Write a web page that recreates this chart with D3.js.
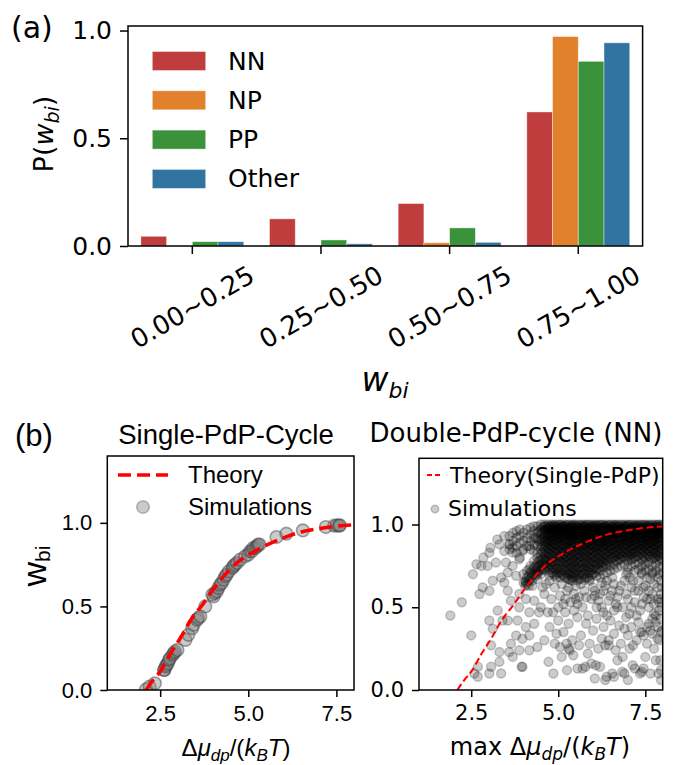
<!DOCTYPE html>
<html><head><meta charset="utf-8">
<script src="https://cdn.jsdelivr.net/npm/d3@7"></script>
<style>body{margin:0;background:#fff;} svg{display:block;}</style>
</head><body><svg id="c" width="684" height="765"></svg>
<script>
// ---------- Panel (a) data ----------
const categories = ["0.00~0.25","0.25~0.50","0.50~0.75","0.75~1.00"];
const seriesNames = ["NN","NP","PP","Other"];
const seriesColors = ["#c03d3e","#e1812c","#3a923a","#3274a1"];
const valNN = [0.045,0.126,0.197,0.622];
const valNP = [0.0,0.0,0.015,0.972];
const valPP = [0.02,0.028,0.084,0.857];
const valOther = [0.02,0.01,0.017,0.943];
const yTicksA = [0.0,0.5,1.0];

// ---------- Panel (b) data ----------
const xTicksB = [2.5,5.0,7.5];
const yTicksB = [0.0,0.5,1.0];
const theoryX = [2.1,2.3,2.5,2.8,3.1,3.4,3.7,4.0,4.3,4.7,5.1,5.5,6.0,6.5,7.0,7.5,8.0];
const theoryY = [0.0,0.06,0.11,0.22,0.32,0.43,0.51,0.60,0.68,0.765,0.82,0.865,0.91,0.945,0.965,0.98,0.988];

const singleSimX = [2.10,2.20,2.35,2.61,2.62,2.66,2.68,2.72,2.75,2.78,2.85,2.89,2.92,2.99,3.22,3.30,3.41,3.45,3.55,3.58,3.64,3.78,3.98,4.02,4.05,4.11,4.15,4.20,4.25,4.30,4.35,4.39,4.45,4.55,4.58,4.62,4.68,4.77,4.91,5.00,5.05,5.10,5.14,5.20,5.25,5.28,5.32,5.80,6.08,6.55,7.20,7.44,7.52,7.58,7.60];
const singleSimY = [0.004,0.02,0.04,0.12,0.12,0.14,0.15,0.16,0.18,0.19,0.21,0.22,0.23,0.24,0.30,0.33,0.37,0.39,0.42,0.43,0.44,0.50,0.57,0.56,0.58,0.59,0.61,0.63,0.64,0.66,0.68,0.69,0.71,0.73,0.74,0.75,0.76,0.78,0.80,0.81,0.83,0.83,0.85,0.85,0.86,0.87,0.87,0.915,0.935,0.955,0.975,0.983,0.985,0.983,0.985];

// Double-PdP-cycle simulations: scattered points
const doubleSimPairs = [
[1.90,0.45],[2.23,0.53],[2.50,0.33],[2.55,0.70],[2.83,0.62],[2.74,0.58],[3.02,0.60],[3.12,0.66],[2.79,0.75],[2.97,0.75],[3.02,0.83],[3.31,0.88],[3.36,0.68],[3.45,0.65],[3.55,0.60],[3.21,0.77],[3.50,0.77],[3.02,0.42],[3.12,0.37],[3.26,0.48],[3.40,0.42],[3.55,0.42],[3.07,0.27],[3.31,0.23],[3.59,0.23],[3.69,0.20],[3.64,0.28],[3.79,0.33],[3.31,0.17],[3.07,0.14],[3.02,0.10],[2.69,0.14],[2.69,0.08],[2.59,0.10],[3.36,0.10],[3.97,0.14],[3.88,0.24],[3.97,0.31],[4.17,0.24],[4.17,0.33],[4.40,0.26],[3.83,0.42],[4.07,0.38],[4.31,0.40],[4.17,0.47],[4.45,0.47],[3.88,0.50],[4.07,0.55],[4.31,0.54],[3.64,0.54],[3.88,0.58],[3.79,0.69],[3.55,0.71],[3.69,0.75],[3.88,0.79],[4.17,0.73],[4.07,0.65],[4.26,0.63],[4.40,0.71],[3.97,0.84],[4.17,0.87],[3.69,0.83],[3.59,0.88],[3.45,0.84],
[2.65,0.76],[2.85,0.80],[3.05,0.86],[3.25,0.91],[3.45,0.93],
[4.72,0.17],[4.86,0.10],[5.10,0.20],[5.25,0.12],[5.55,0.13],[5.70,0.13],[5.85,0.22],[6.05,0.07],[6.08,0.15],[6.20,0.14],[6.35,0.06],[6.39,0.08],[6.55,0.10],[6.60,0.08],[6.70,0.18],[6.84,0.11],[6.90,0.10],[7.05,0.25],[7.14,0.15],[7.20,0.13],[7.35,0.10],[7.40,0.11],[7.50,0.20],[7.65,0.10],[7.80,0.18],[7.88,0.10],[7.93,0.18],[7.95,0.06],[7.95,0.12],[5.95,0.16],[5.30,0.25],[7.00,0.06],[7.45,0.13],[6.85,0.20],[5.43,0.21],[5.33,0.24],[5.24,0.28],[5.05,0.26],[5.78,0.14],[3.95,0.14],
[4.60,0.30],[4.75,0.38],[4.90,0.28],[5.00,0.42],[5.15,0.35],[5.30,0.40],[5.40,0.30],[5.55,0.44],[5.65,0.33],[5.80,0.40],[5.90,0.28],[6.00,0.36],[6.10,0.43],[6.25,0.31],[6.30,0.38],[6.45,0.27],[6.50,0.42],[6.60,0.34],[6.75,0.39],[6.80,0.28],[6.95,0.44],[7.00,0.33],[7.10,0.38],[7.25,0.30],[7.30,0.41],[7.40,0.35],[7.55,0.28],[7.60,0.40],[7.70,0.34],[7.85,0.38],[7.90,0.30],[7.95,0.43],[6.65,0.24],[7.15,0.27],[7.75,0.25],[6.15,0.25],[5.60,0.27],[4.95,0.34],[7.35,0.35],[7.45,0.33],[7.65,0.36],[6.90,0.37],[7.85,0.31],[6.35,0.27],[6.45,0.30],[7.55,0.38],[7.80,0.41],[7.98,0.36],
[4.50,0.50],[4.60,0.58],[4.70,0.47],[4.80,0.55],[4.90,0.62],[5.00,0.50],[5.05,0.57],[5.20,0.47],[5.25,0.60],[5.35,0.53],[5.45,0.48],[5.50,0.63],[5.60,0.56],[5.70,0.50],[5.75,0.60],[5.85,0.45],[5.95,0.55],[6.00,0.62],[6.10,0.50],[6.20,0.58],[6.30,0.47],[6.35,0.63],[6.45,0.54],[6.55,0.60],[6.60,0.48],[6.70,0.56],[6.80,0.63],[6.85,0.50],[6.95,0.58],[7.05,0.46],[7.10,0.62],[7.20,0.53],[7.30,0.60],[7.35,0.48],[7.45,0.56],[7.50,0.63],[7.60,0.50],[7.70,0.58],[7.75,0.46],[7.85,0.62],[7.90,0.53],[7.95,0.58],[6.40,0.45],[5.15,0.52],[4.85,0.47],[7.25,0.45],[7.55,0.55],[6.65,0.52],[5.55,0.52],[6.05,0.57],[7.80,0.45],[7.90,0.48],[7.98,0.50],[7.70,0.43],[7.95,0.35],[7.60,0.60],[7.98,0.62],[7.85,0.55],[7.75,0.52],[4.65,0.64],[5.40,0.66],[6.25,0.65],[7.15,0.66],[7.65,0.67],
[4.55,0.62],[4.75,0.66],[4.95,0.68],[5.10,0.64],[5.30,0.62],[5.45,0.58],[5.65,0.64],[5.80,0.56],[5.90,0.66],[6.05,0.60],[6.15,0.54],[6.30,0.60],[6.40,0.66],[6.50,0.57],[6.60,0.64],[6.75,0.60],[6.90,0.66],[7.00,0.55],[7.05,0.68],[7.20,0.60],[7.30,0.66],[7.40,0.52],[7.45,0.62],[7.55,0.68],[7.65,0.55],[7.75,0.64],[7.85,0.68],[7.95,0.55],[5.20,0.55],[5.50,0.55],[6.25,0.50],[6.70,0.50],[7.10,0.50],[7.95,0.66],[7.70,0.70],[7.40,0.70],[6.95,0.70],[6.55,0.68]
];
// Double-PdP-cycle simulations: dense band, read column by column
const nnColX = [3.6,3.7,3.8,3.9,4.0,4.1,4.2,4.3,4.4,4.5,4.6,4.7,4.8,4.9,5.0,5.1,5.2,5.3,5.4,5.5,5.6,5.7,5.8,5.9,6.0,6.1,6.2,6.3,6.4,6.5,6.6,6.7,6.8,6.9,7.0,7.1,7.2,7.3,7.4,7.5,7.6,7.7,7.8,7.9,8.0];
const nnColY = [
[0.93,0.88,0.85],
[0.95,0.90,0.86],
[0.96,0.92,0.87,0.83],
[0.97,0.93,0.89,0.80],
[0.95,0.90,0.85,0.70,0.65],
[0.97,0.92,0.87,0.72,0.68,0.64],
[0.98,0.94,0.90,0.85,0.75,0.71,0.67],
[0.99,0.96,0.92,0.88,0.84,0.78,0.74,0.70],
[0.99,0.95,0.91,0.87,0.83,0.80,0.77,0.74,0.70,0.67],
[1.00,0.97,0.94,0.91,0.88,0.85,0.82,0.79,0.76,0.73,0.70],
[1.00,0.99,0.97,0.96,0.94,0.92,0.90,0.88,0.85,0.82,0.79,0.76,0.73],
[1.00,0.98,0.97,0.95,0.93,0.91,0.89,0.86,0.83,0.80,0.77,0.74],
[1.00,0.99,0.98,0.96,0.94,0.92,0.90,0.87,0.85,0.81,0.78,0.75,0.71],
[1.00,0.99,0.97,0.95,0.93,0.91,0.88,0.86,0.83,0.80,0.76,0.73,0.69],
[1.00,0.98,0.97,0.96,0.94,0.92,0.90,0.87,0.84,0.81,0.78,0.74,0.71],
[1.00,0.99,0.98,0.96,0.95,0.93,0.91,0.88,0.85,0.83,0.80,0.77,0.73,0.70],
[1.00,0.99,0.97,0.95,0.93,0.91,0.89,0.86,0.84,0.81,0.78,0.75,0.72,0.68],
[1.00,0.98,0.97,0.96,0.94,0.92,0.90,0.87,0.85,0.82,0.79,0.76,0.73,0.70,0.67],
[1.00,0.99,0.98,0.96,0.94,0.93,0.91,0.88,0.86,0.83,0.80,0.77,0.74,0.71,0.68],
[1.00,0.99,0.97,0.95,0.94,0.92,0.89,0.87,0.84,0.81,0.78,0.75,0.72,0.69],
[1.00,0.98,0.97,0.96,0.94,0.92,0.90,0.88,0.85,0.82,0.80,0.77,0.74,0.70,0.67],
[1.00,0.99,0.98,0.96,0.95,0.93,0.91,0.88,0.86,0.83,0.80,0.76,0.73,0.70],
[1.00,0.99,0.97,0.95,0.93,0.91,0.89,0.87,0.84,0.81,0.78,0.75,0.72,0.68],
[1.00,0.98,0.97,0.96,0.94,0.92,0.90,0.88,0.85,0.83,0.80,0.77,0.74,0.71,0.67],
[1.00,0.99,0.98,0.96,0.94,0.93,0.91,0.88,0.86,0.83,0.80,0.77,0.73,0.70],
[1.00,0.99,0.97,0.95,0.94,0.92,0.90,0.87,0.85,0.82,0.79,0.76,0.73,0.69],
[1.00,0.98,0.97,0.96,0.94,0.92,0.90,0.88,0.85,0.82,0.79,0.76,0.72,0.68],
[1.00,0.99,0.98,0.96,0.95,0.93,0.90,0.88,0.86,0.83,0.80,0.77,0.74,0.70],
[1.00,0.99,0.97,0.95,0.93,0.91,0.89,0.87,0.84,0.81,0.78,0.75,0.71],
[1.00,0.98,0.97,0.96,0.94,0.92,0.90,0.87,0.85,0.82,0.79,0.75,0.72],
[1.00,0.99,0.98,0.96,0.94,0.93,0.91,0.88,0.86,0.83,0.80,0.76,0.73],
[1.00,0.99,0.97,0.95,0.94,0.92,0.89,0.87,0.84,0.81,0.78,0.74],
[1.00,0.98,0.97,0.96,0.94,0.92,0.90,0.88,0.85,0.82,0.79,0.75],
[1.00,0.99,0.98,0.96,0.95,0.93,0.91,0.88,0.86,0.83,0.80,0.76],
[1.00,0.99,0.97,0.95,0.93,0.91,0.89,0.87,0.84,0.81,0.78,0.74,0.71],
[1.00,0.98,0.97,0.96,0.94,0.92,0.90,0.87,0.85,0.82,0.79,0.75],
[1.00,0.99,0.98,0.96,0.94,0.93,0.91,0.88,0.86,0.83,0.80,0.76,0.72],
[1.00,0.99,0.97,0.95,0.94,0.92,0.89,0.87,0.84,0.81,0.77,0.73],
[1.00,0.98,0.97,0.96,0.94,0.92,0.90,0.88,0.85,0.82,0.79,0.75,0.71],
[1.00,0.99,0.98,0.96,0.95,0.93,0.91,0.88,0.86,0.83,0.80,0.76,0.72],
[1.00,0.99,0.97,0.95,0.93,0.91,0.89,0.87,0.84,0.81,0.77,0.73],
[1.00,0.98,0.97,0.96,0.94,0.92,0.90,0.88,0.85,0.82,0.79,0.75,0.71],
[1.00,0.99,0.98,0.96,0.94,0.93,0.91,0.88,0.86,0.83,0.80,0.76,0.72],
[1.00,0.99,0.97,0.95,0.94,0.92,0.89,0.87,0.84,0.81,0.78,0.74,0.70],
[1.00,0.98,0.97,0.96,0.94,0.92,0.90,0.88,0.85,0.82,0.79,0.75,0.71]
];
// second reading of the dense band, between the columns above
const nnColX2 = [4.05,4.15,4.25,4.35,4.45,4.55,4.65,4.75,4.85,4.95,5.05,5.15,5.25,5.35,5.45,5.55,5.65,5.75,5.85,5.95,6.05,6.15,6.25,6.35,6.45,6.55,6.65,6.75,6.85,6.95,7.05,7.15,7.25,7.35,7.45,7.55,7.65,7.75,7.85,7.95];
const nnColY2 = [
[0.66,0.63],
[0.69,0.66,0.63],
[0.72,0.69,0.66],
[0.92,0.75,0.72,0.69],
[0.96,0.90,0.78,0.75,0.72],
[0.985,0.95,0.91,0.87,0.83,0.79,0.76,0.73],
[0.99,0.965,0.935,0.90,0.87,0.84,0.81,0.78,0.75,0.72],
[0.993,0.982,0.964,0.946,0.926,0.904,0.878,0.852,0.822,0.792,0.76,0.728,0.695],
[0.996,0.976,0.956,0.934,0.912,0.888,0.862,0.834,0.804,0.772,0.74,0.706],
[0.994,0.984,0.966,0.948,0.928,0.906,0.882,0.856,0.826,0.796,0.764,0.732,0.70],
[0.997,0.977,0.957,0.937,0.915,0.893,0.867,0.839,0.809,0.777,0.745,0.712,0.68],
[0.993,0.983,0.965,0.945,0.925,0.903,0.879,0.853,0.823,0.793,0.761,0.728,0.694],
[0.996,0.978,0.958,0.936,0.914,0.89,0.864,0.836,0.806,0.774,0.742,0.708,0.675],
[0.994,0.984,0.966,0.946,0.926,0.904,0.88,0.854,0.826,0.796,0.764,0.732,0.698,0.665],
[0.997,0.977,0.957,0.937,0.915,0.893,0.867,0.839,0.809,0.777,0.745,0.712,0.68],
[0.993,0.983,0.965,0.945,0.925,0.903,0.879,0.853,0.823,0.793,0.761,0.728,0.694,0.662],
[0.996,0.978,0.958,0.936,0.914,0.89,0.864,0.836,0.806,0.774,0.742,0.708,0.675],
[0.994,0.984,0.966,0.946,0.926,0.904,0.88,0.854,0.826,0.796,0.764,0.732,0.698,0.665],
[0.997,0.977,0.957,0.937,0.915,0.893,0.867,0.839,0.809,0.777,0.745,0.712,0.68],
[0.993,0.983,0.965,0.945,0.925,0.903,0.879,0.853,0.823,0.793,0.761,0.728,0.694],
[0.996,0.978,0.958,0.936,0.914,0.89,0.864,0.836,0.806,0.774,0.742,0.708],
[0.994,0.984,0.966,0.946,0.926,0.904,0.88,0.854,0.826,0.796,0.764,0.732],
[0.997,0.977,0.957,0.937,0.915,0.893,0.867,0.839,0.809,0.777,0.745],
[0.993,0.983,0.965,0.945,0.925,0.903,0.879,0.853,0.823,0.793,0.761],
[0.996,0.978,0.958,0.936,0.914,0.89,0.864,0.836,0.806,0.774],
[0.994,0.984,0.966,0.946,0.926,0.904,0.88,0.854,0.826,0.796],
[0.997,0.977,0.957,0.937,0.915,0.893,0.867,0.839,0.809,0.78],
[0.993,0.983,0.965,0.945,0.925,0.903,0.879,0.853,0.823,0.793],
[0.996,0.978,0.958,0.936,0.914,0.89,0.864,0.836,0.806],
[0.994,0.984,0.966,0.946,0.926,0.904,0.88,0.854,0.826,0.796],
[0.997,0.977,0.957,0.937,0.915,0.893,0.867,0.839,0.809],
[0.993,0.983,0.965,0.945,0.925,0.903,0.879,0.853,0.823,0.793],
[0.996,0.978,0.958,0.936,0.914,0.89,0.864,0.836,0.806],
[0.994,0.984,0.966,0.946,0.926,0.904,0.88,0.854,0.826],
[0.997,0.977,0.957,0.937,0.915,0.893,0.867,0.839,0.809,0.78],
[0.993,0.983,0.965,0.945,0.925,0.903,0.879,0.853,0.823],
[0.996,0.978,0.958,0.936,0.914,0.89,0.864,0.836,0.806],
[0.994,0.984,0.966,0.946,0.926,0.904,0.88,0.854,0.826,0.796],
[0.997,0.977,0.957,0.937,0.915,0.893,0.867,0.839,0.809],
[0.993,0.983,0.965,0.945,0.925,0.903,0.879,0.853,0.823,0.793]
];

// ---------- drawing ----------
const svg = d3.select("#c");
svg.append("rect").attr("width",684).attr("height",765).attr("fill","#fff");
const DV = "DejaVu Sans", LS = "Liberation Sans";

function styleAxis(g, font, size){
  g.select(".domain").remove();
  g.attr("font-family",null).attr("font-size",null);
  g.selectAll(".tick line").attr("stroke","#000").attr("stroke-width",1.5);
  g.selectAll(".tick text").attr("fill","#000").style("font-family",font).style("font-size",size+"px");
}
function frame(P){
  svg.append("rect").attr("x",P.l).attr("y",P.t).attr("width",P.r-P.l).attr("height",P.b-P.t)
    .attr("fill","none").attr("stroke","#000").attr("stroke-width",1.5);
}

// ===== Panel (a) =====
const A = {l:128, r:642.6, t:26, b:246};
const xA = d3.scaleBand().domain(categories).range([A.l, A.r]).paddingInner(0.2).paddingOuter(0.1);
const xSub = d3.scaleBand().domain(seriesNames).range([0, xA.bandwidth()]);
const yA = d3.scaleLinear().domain([0, 1.021]).range([A.b, A.t]);
const seriesValues = [valNN, valNP, valPP, valOther];

seriesNames.forEach((s, si) => {
  svg.append("g").selectAll("rect").data(categories).join("rect")
    .attr("x", c => xA(c) + xSub(s))
    .attr("width", xSub.bandwidth())
    .attr("y", (c, i) => yA(seriesValues[si][i]))
    .attr("height", (c, i) => yA(0) - yA(seriesValues[si][i]))
    .attr("fill", seriesColors[si])
    .attr("stroke", "#fff").attr("stroke-opacity", 0.5).attr("stroke-width", 0.8);
});

const gyA = svg.append("g").attr("transform",`translate(${A.l},0)`)
  .call(d3.axisLeft(yA).tickValues(yTicksA).tickFormat(d3.format(".1f")).tickSize(8).tickPadding(8));
styleAxis(gyA, DV, 25);
const gxA = svg.append("g").attr("transform",`translate(0,${A.b})`)
  .call(d3.axisBottom(xA).tickSize(8).tickSizeOuter(0));
styleAxis(gxA, DV, 26);
gxA.selectAll(".tick text").attr("y",null).attr("dy",null)
  .attr("dominant-baseline","central").attr("text-anchor","middle")
  .attr("transform","translate(0,61) rotate(-30)");
frame(A);

// legend (a)
seriesNames.forEach((s, i) => {
  const cy = 61 + i*39.3;
  svg.append("rect").attr("x",152.3).attr("y",cy-9.5).attr("width",53.4).attr("height",19)
    .attr("fill",seriesColors[i]).attr("stroke","#fff").attr("stroke-opacity",0.5).attr("stroke-width",0.8);
  svg.append("text").attr("x",228).attr("y",cy).attr("dominant-baseline","central")
    .style("font-family",DV).style("font-size","25px").text(s);
});
// labels (a)
svg.append("text").attr("x",11).attr("y",38).style("font-family",DV).style("font-size","30px").text("(a)");
{
  const t = svg.append("text").attr("transform","translate(53,134) rotate(-90)").attr("text-anchor","middle")
    .style("font-family",DV).style("font-size","27px");
  t.append("tspan").text("P(");
  t.append("tspan").style("font-style","italic").text("w");
  t.append("tspan").style("font-style","italic").style("font-size","19px").attr("dy",6).text("bi");
  t.append("tspan").attr("dy",-6).text(")");
}
{
  const t = svg.append("text").attr("x",385).attr("y",391).attr("text-anchor","middle")
    .style("font-family",DV).style("font-size","33px");
  t.append("tspan").style("font-style","italic").text("w");
  t.append("tspan").style("font-style","italic").style("font-size","22px").attr("dy",7).text("bi");
}

// ===== Panel (b) shared =====
const theoryPts = theoryX.map((x,i)=>[x, theoryY[i]]);
const defs = svg.append("defs");

// ----- left: Single-PdP-Cycle -----
const B1 = {l:107.3, r:354, t:456, b:690};
const xB1 = d3.scaleLinear().domain([1,8]).range([B1.l,B1.r]);
const yB1 = d3.scaleLinear().domain([0,1.4]).range([B1.b,B1.t]);
defs.append("clipPath").attr("id","clipB1").append("rect")
  .attr("x",B1.l).attr("y",B1.t).attr("width",B1.r-B1.l).attr("height",B1.b-B1.t);
const pB1 = svg.append("g").attr("clip-path","url(#clipB1)");
pB1.selectAll("circle").data(singleSimX.map((x,i)=>[x,singleSimY[i]])).join("circle")
  .attr("cx",d=>xB1(d[0])).attr("cy",d=>yB1(d[1])).attr("r",6.3)
  .attr("fill","#808080").attr("fill-opacity",0.42)
  .attr("stroke","#3a3a3a").attr("stroke-opacity",0.45).attr("stroke-width",1.6);
pB1.append("path").datum(theoryPts)
  .attr("d", d3.line().x(d=>xB1(d[0])).y(d=>yB1(d[1])).curve(d3.curveMonotoneX))
  .attr("fill","none").attr("stroke","#ff0000").attr("stroke-width",3.6).attr("stroke-dasharray","13,6");

const gyB1 = svg.append("g").attr("transform",`translate(${B1.l},0)`)
  .call(d3.axisLeft(yB1).tickValues(yTicksB).tickFormat(d3.format(".1f")).tickSize(7).tickPadding(8));
styleAxis(gyB1, LS, 22);
const gxB1 = svg.append("g").attr("transform",`translate(0,${B1.b})`)
  .call(d3.axisBottom(xB1).tickValues(xTicksB).tickFormat(d3.format(".1f")).tickSize(7).tickPadding(8));
styleAxis(gxB1, LS, 22);
frame(B1);

// legend left
svg.append("line").attr("x1",118).attr("x2",168).attr("y1",475).attr("y2",475)
  .attr("stroke","#ff0000").attr("stroke-width",3.6).attr("stroke-dasharray","13,6");
svg.append("text").attr("x",188).attr("y",483).style("font-family",LS).style("font-size","24px").text("Theory");
svg.append("circle").attr("cx",143).attr("cy",507).attr("r",6.3)
  .attr("fill","#808080").attr("fill-opacity",0.42)
  .attr("stroke","#3a3a3a").attr("stroke-opacity",0.3).attr("stroke-width",1.6);
svg.append("text").attr("x",188).attr("y",515).style("font-family",LS).style("font-size","24px").text("Simulations");

svg.append("text").attr("x",226).attr("y",444).attr("text-anchor","middle")
  .style("font-family",LS).style("font-size","27.5px").text("Single-PdP-Cycle");
svg.append("text").attr("x",15).attr("y",446).style("font-family",LS).style("font-size","31px").text("(b)");
{
  const t = svg.append("text").attr("transform","translate(46,566) rotate(-90)").attr("text-anchor","middle")
    .style("font-family",LS).style("font-size","34px");
  t.append("tspan").text("w");
  t.append("tspan").style("font-size","21px").attr("dy",4).text("bi");
}
{
  const t = svg.append("text").attr("x",236).attr("y",756).attr("text-anchor","middle")
    .style("font-family",LS).style("font-size","24px");
  t.append("tspan").text("Δ");
  t.append("tspan").style("font-style","italic").text("μ");
  t.append("tspan").style("font-style","italic").style("font-size","17px").attr("dy",5).text("dp");
  t.append("tspan").attr("dy",-5).text("/(");
  t.append("tspan").style("font-style","italic").text("k");
  t.append("tspan").style("font-style","italic").style("font-size","17px").attr("dy",5).text("B");
  t.append("tspan").style("font-style","italic").attr("dy",-5).text("T");
  t.append("tspan").text(")");
}

// ----- right: Double-PdP-cycle (NN) -----
const B2 = {l:419, r:662.7, t:458.3, b:690};
const xB2 = d3.scaleLinear().domain([1,8]).range([B2.l,B2.r]);
const yB2 = d3.scaleLinear().domain([0,1.4]).range([B2.b,B2.t]);
defs.append("clipPath").attr("id","clipB2").append("rect")
  .attr("x",B2.l).attr("y",B2.t).attr("width",B2.r-B2.l).attr("height",B2.b-B2.t);
const pB2 = svg.append("g").attr("clip-path","url(#clipB2)");
const densePts = [];
nnColX.forEach((x,i)=> nnColY[i].forEach(y => densePts.push([x,y])));
nnColX2.forEach((x,i)=> nnColY2[i].forEach(y => densePts.push([x,y])));
const allNN = doubleSimPairs.concat(densePts);
pB2.selectAll("circle").data(allNN).join("circle")
  .attr("cx",d=>xB2(d[0])).attr("cy",d=>yB2(d[1])).attr("r",4.5)
  .attr("fill","#000").attr("fill-opacity",0.2)
  .attr("stroke","#000").attr("stroke-opacity",0.2).attr("stroke-width",1.5);
pB2.append("path").datum(theoryPts)
  .attr("d", d3.line().x(d=>xB2(d[0])).y(d=>yB2(d[1])).curve(d3.curveMonotoneX))
  .attr("fill","none").attr("stroke","#ff0000").attr("stroke-width",2).attr("stroke-dasharray","7,3.5");

const gyB2 = svg.append("g").attr("transform",`translate(${B2.l},0)`)
  .call(d3.axisLeft(yB2).tickValues(yTicksB).tickFormat(d3.format(".1f")).tickSize(7).tickPadding(8));
styleAxis(gyB2, DV, 21);
const gxB2 = svg.append("g").attr("transform",`translate(0,${B2.b})`)
  .call(d3.axisBottom(xB2).tickValues(xTicksB).tickFormat(d3.format(".1f")).tickSize(7).tickPadding(8));
styleAxis(gxB2, DV, 21);
frame(B2);

// legend right
svg.append("line").attr("x1",427).attr("x2",443).attr("y1",475).attr("y2",475)
  .attr("stroke","#ff0000").attr("stroke-width",2).attr("stroke-dasharray","5,3");
svg.append("text").attr("x",450).attr("y",483).style("font-family",DV).style("font-size","22px").text("Theory(Single-PdP)");
svg.append("circle").attr("cx",435).attr("cy",509).attr("r",3.8)
  .attr("fill","#000").attr("fill-opacity",0.2)
  .attr("stroke","#000").attr("stroke-opacity",0.2).attr("stroke-width",1.5);
svg.append("text").attr("x",448).attr("y",516).style("font-family",DV).style("font-size","22px").text("Simulations");

svg.append("text").attr("x",516).attr("y",442).attr("text-anchor","middle")
  .style("font-family",DV).style("font-size","26px").text("Double-PdP-cycle (NN)");
{
  const t = svg.append("text").attr("x",540).attr("y",755).attr("text-anchor","middle")
    .style("font-family",DV).style("font-size","24px");
  t.append("tspan").text("max Δ");
  t.append("tspan").style("font-style","italic").text("μ");
  t.append("tspan").style("font-style","italic").style("font-size","17px").attr("dy",5).text("dp");
  t.append("tspan").attr("dy",-5).text("/(");
  t.append("tspan").style("font-style","italic").text("k");
  t.append("tspan").style("font-style","italic").style("font-size","17px").attr("dy",5).text("B");
  t.append("tspan").style("font-style","italic").attr("dy",-5).text("T");
  t.append("tspan").text(")");
}
</script></body></html>
